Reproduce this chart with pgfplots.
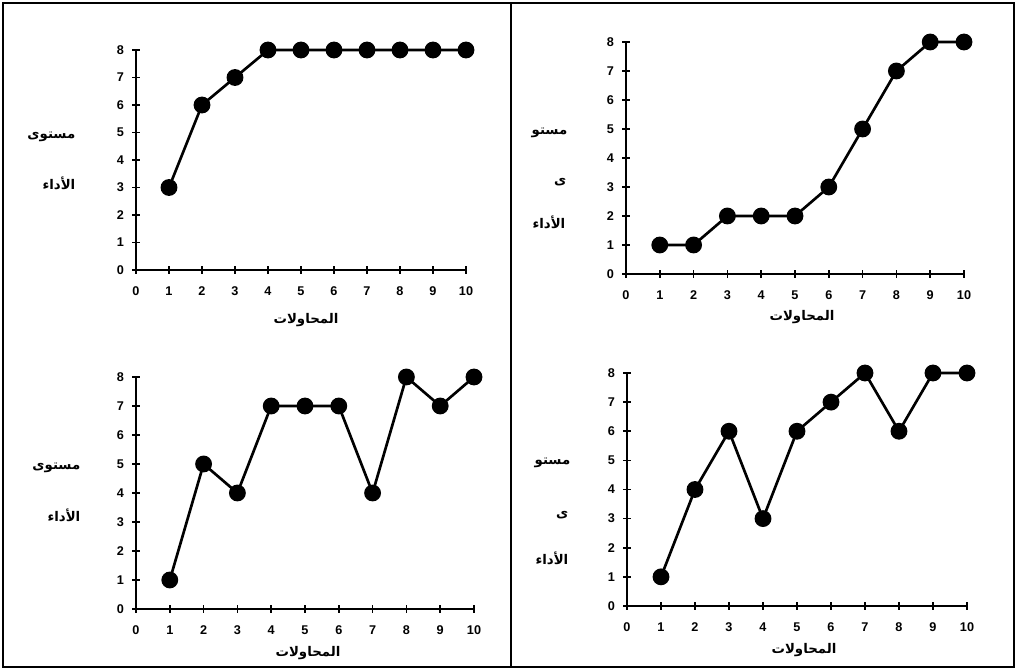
\documentclass[border=0pt]{standalone}
\usepackage{pgfplots}
\pgfplotsset{compat=1.18}
\usepackage{fontspec}
\setmainfont{Liberation Sans}
\newfontfamily\arabicfont[Script=Arabic]{DejaVu Sans}
\TeXXeTstate=1

\pgfplotsset{
  trial/.style={
    scale only axis, anchor=south west, clip=false,
    axis lines=left, axis line style={-, line width=1.6pt},
    xmin=0, xmax=10, ymin=0, ymax=8,
    xtick={0,...,10}, ytick={0,...,8},
    tick align=center, major tick length=6pt,
    every tick/.style={black, line width=1.3pt},
    /pgf/number format/assume math mode=true,
    ticklabel style={font=\bfseries\fontsize{9.5}{11}\selectfont},
    xticklabel style={yshift=-6pt},
    yticklabel style={xshift=-2.5pt},
  },
  trace/.style={black, line width=2pt, mark=*, mark size=5.3pt, mark options={solid}},
}
\newcommand{\ar}[1]{\arabicfont\bfseries\fontsize{10}{12}\selectfont\beginR #1\endR}

\begin{document}
\begin{tikzpicture}
\path (0pt,0pt) rectangle (763.5pt,502.5pt);
\draw[line width=1.5pt] (2.25pt,2.25pt) rectangle (760.5pt,500.25pt);
\draw[line width=1.5pt] (383.25pt,2.25pt) -- (383.25pt,500.25pt);

% top left
\begin{axis}[trial, at={(102pt,300pt)}, width=247.5pt, height=165pt]
\addplot[trace] coordinates {(1,3) (2,6) (3,7) (4,8) (5,8) (6,8) (7,8) (8,8) (9,8) (10,8)};
\end{axis}
\node[anchor=east] at (60pt,399.75pt) {\ar{مستوى}};
\node[anchor=east] at (60pt,365.25pt) {\ar{الأداء}};
\node at (229.5pt,262.5pt) {\ar{المحاولات}};

% top right
\begin{axis}[trial, at={(469.5pt,297pt)}, width=253.5pt, height=174pt]
\addplot[trace] coordinates {(1,1) (2,1) (3,2) (4,2) (5,2) (6,3) (7,5) (8,7) (9,8) (10,8)};
\end{axis}
\node[anchor=east] at (429pt,402.75pt) {\ar{مستو}};
\node[anchor=east] at (428.25pt,366pt) {\ar{ى}};
\node[anchor=east] at (427.5pt,336pt) {\ar{الأداء}};
\node at (601.5pt,264.75pt) {\ar{المحاولات}};

% bottom left
\begin{axis}[trial, at={(102pt,45.75pt)}, width=253.5pt, height=174pt]
\addplot[trace] coordinates {(1,1) (2,5) (3,4) (4,7) (5,7) (6,7) (7,4) (8,8) (9,7) (10,8)};
\end{axis}
\node[anchor=east] at (63.75pt,151.5pt) {\ar{مستوى}};
\node[anchor=east] at (63.75pt,116.25pt) {\ar{الأداء}};
\node at (231pt,12.75pt) {\ar{المحاولات}};

% bottom right
\begin{axis}[trial, at={(470.25pt,48pt)}, width=255pt, height=174.75pt]
\addplot[trace] coordinates {(1,1) (2,4) (3,6) (4,3) (5,6) (6,7) (7,8) (8,6) (9,8) (10,8)};
\end{axis}
\node[anchor=east] at (431.25pt,155.25pt) {\ar{مستو}};
\node[anchor=east] at (429.75pt,116.25pt) {\ar{ى}};
\node[anchor=east] at (429.75pt,84pt) {\ar{الأداء}};
\node at (603pt,15pt) {\ar{المحاولات}};
\end{tikzpicture}
\end{document}
